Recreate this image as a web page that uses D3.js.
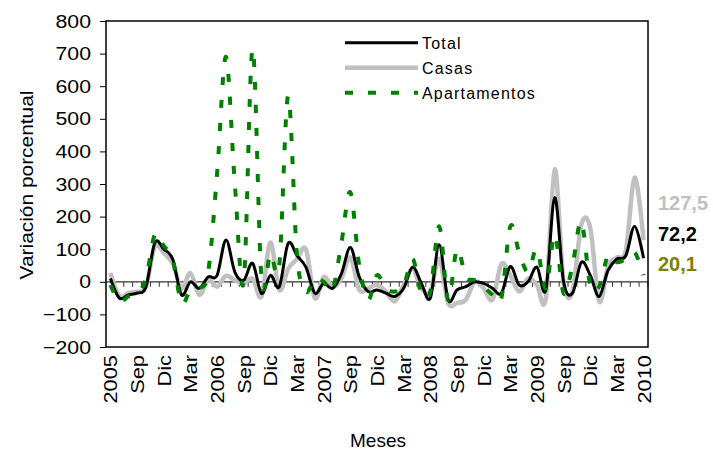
<!DOCTYPE html>
<html>
<head>
<meta charset="utf-8">
<script src="https://cdn.jsdelivr.net/npm/d3@7"></script>
<style>
body { margin: 0; background: #fff; }
text { font-family: Arial, "Liberation Sans", sans-serif; }
</style>
</head>
<body>
<div id="chart"></div>
<script>
var meses = [
    "2005-06","2005-07","2005-08","2005-09","2005-10","2005-11","2005-12",
    "2006-01","2006-02","2006-03","2006-04","2006-05","2006-06","2006-07","2006-08","2006-09","2006-10","2006-11","2006-12",
    "2007-01","2007-02","2007-03","2007-04","2007-05","2007-06","2007-07","2007-08","2007-09","2007-10","2007-11","2007-12",
    "2008-01","2008-02","2008-03","2008-04","2008-05","2008-06","2008-07","2008-08","2008-09","2008-10","2008-11","2008-12",
    "2009-01","2009-02","2009-03","2009-04","2009-05","2009-06","2009-07","2009-08","2009-09","2009-10","2009-11","2009-12",
    "2010-01","2010-02","2010-03","2010-04","2010-05","2010-06"
];
var etiquetas = ["2005","Sep","Dic","Mar","2006","Sep","Dic","Mar","2007","Sep","Dic","Mar",
    "2008","Sep","Dic","Mar","2009","Sep","Dic","Mar","2010"];

var total = [10, -50, -40, -35, -15, 120, 100, 70, -40, 0,
    -20, 15, 20, 128, 30, 5, 57, -36, 20, -15,
    118, 80, 45, -35, -5, -20, 25, 105, 15, -30,
    -25, -35, -45, -20, 45, -5, -50, 114, -55, -25,
    -15, 0, -5, -20, -35, 47, -10, 0, 45, -25,
    258, 0, -35, 60, 20, -45, 35, 70, 80, 170, 72.2];
var casas = [27, -45, -35, -30, -15, 109, 88, 57, -20, 27,
    -40, 6, -15, 18, 5, -5, 10, -45, 120, -25,
    40, 70, 100, -50, 15, -15, 10, 75, -25, -20,
    -10, -30, -60, -10, 40, -20, -30, 70, -65, -65,
    -55, 0, -20, -55, 55, 20, -30, 10, -10, -50,
    345, 0, -30, 175, 165, -60, 47, 75, 95, 320, 127.5];
var apartamentos = [-10, -60, -45, -35, 10, 145, 110, 70, -65, -25,
    -20, 30, 330, 690, 300, 0, 715, 10, 85, 50,
    570, 80, -30, 10, 0, -25, 120, 275, 50, -55,
    20, -20, -30, -15, 70, -35, -30, 170, -55, 100,
    15, 5, -15, -40, -50, 170, 90, 30, 100, -20,
    145, -35, 50, 185, -10, -15, 80, 60, 70, 90, 20.1];

var finales = ["127,5", "72,2", "20,1"];
var series = [
    { nombre: "Total", valores: total, color: "#000000", ancho: 3, dash: null },
    { nombre: "Casas", valores: casas, color: "#c0c0c0", ancho: 4.5, dash: null },
    { nombre: "Apartamentos", valores: apartamentos, color: "#008000", ancho: 4, dash: "8,15" }
];

var width = 713, height = 450;
var padding = { top: 21, right: 65, bottom: 103, left: 106 };
var stretch = 1.12; // the original text looks a bit wide
var svg = d3.select("#chart").append("svg")
    .attr("width", width)
    .attr("height", height);

var xScale = d3.scalePoint()
    .domain(meses)
    .range([padding.left, width - padding.right])
    .padding(0.5);
var yScale = d3.scaleLinear()
    .domain([-200, 800])
    .range([height - padding.bottom, padding.top]);

// y axis
var yAxis = d3.axisLeft(yScale)
    .tickValues(d3.range(-200, 801, 100))
    .tickSize(6)
    .tickPadding(9);
var gy = svg.append("g")
    .attr("transform", "translate(" + padding.left + ",0)")
    .call(yAxis);
gy.select(".domain").remove();
gy.selectAll("line").attr("stroke", "#000");
gy.selectAll("text")
    .attr("x", -15 / stretch)
    .attr("transform", "scale(" + stretch + ",1)")
    .style("font-size", "19px")
    .attr("fill", "#000");

// zero line with monthly ticks
var step = xScale.step();
svg.append("line")
    .attr("x1", padding.left).attr("x2", width - padding.right)
    .attr("y1", yScale(0)).attr("y2", yScale(0))
    .attr("stroke", "#333").attr("stroke-width", 1.3);
svg.append("g")
    .selectAll("line")
    .data(meses)
    .enter()
    .append("line")
    .attr("x1", function(d) { return xScale(d) + step / 2; })
    .attr("x2", function(d) { return xScale(d) + step / 2; })
    .attr("y1", yScale(0))
    .attr("y2", yScale(0) + 5)
    .attr("stroke", "#333");

// x labels every 3 months
svg.append("g")
    .selectAll("text")
    .data(etiquetas)
    .enter()
    .append("text")
    .attr("transform", function(d, i) {
        return "translate(" + (xScale(meses[i * 3]) + 7) + "," + (height - padding.bottom + 8) + ") rotate(-90) scale(1.15,1)";
    })
    .attr("text-anchor", "end")
    .style("font-size", "19px")
    .text(function(d) { return d; });

// lines
var linePath = d3.line()
    .x(function(d, i) { return xScale(meses[i]); })
    .y(function(d) { return yScale(d); })
    .curve(d3.curveCardinal.tension(0));

[series[1], series[0], series[2]].forEach(function(s) {
    svg.append("path")
        .attr("d", linePath(s.valores))
        .attr("fill", "none")
        .attr("stroke", s.color)
        .attr("stroke-width", s.ancho)
        .attr("stroke-linejoin", "round")
        .attr("stroke-dasharray", s.dash);
});

// frame
svg.append("rect")
    .attr("x", padding.left)
    .attr("y", padding.top)
    .attr("width", width - padding.left - padding.right)
    .attr("height", height - padding.top - padding.bottom)
    .attr("fill", "none")
    .attr("stroke", "#000")
    .attr("stroke-width", 1.5);

// legend
var legend = svg.append("g")
    .selectAll("g")
    .data(series)
    .enter()
    .append("g")
    .attr("transform", function(d, i) { return "translate(345," + (42.7 + i * 25) + ")"; });
legend.append("line")
    .attr("x1", 0).attr("x2", 73)
    .attr("stroke", function(d) { return d.color; })
    .attr("stroke-width", function(d) { return d.ancho; })
    .attr("stroke-dasharray", function(d) { return d.dash; });
legend.append("text")
    .attr("x", 77)
    .attr("y", 6)
    .style("font-size", "16px")
    .style("letter-spacing", "1.2px")
    .text(function(d) { return d.nombre; });

// end values
var coloresFinales = ["#c0c0c0", "#000000", "#808000"];
svg.append("g")
    .selectAll("text")
    .data(finales)
    .enter()
    .append("text")
    .attr("x", 658)
    .attr("y", function(d, i) { return [210, 241, 271][i]; })
    .attr("fill", function(d, i) { return coloresFinales[i]; })
    .style("font-size", "20px")
    .style("font-weight", "bold")
    .text(function(d) { return d; });

// axis titles
svg.append("text")
    .attr("x", 378)
    .attr("y", 447)
    .attr("text-anchor", "middle")
    .style("font-size", "19px")
    .text("Meses");
svg.append("text")
    .attr("transform", "translate(33,185) rotate(-90) scale(1.1,1)")
    .attr("text-anchor", "middle")
    .style("font-size", "19px")
    .text("Variación porcentual");
</script>
</body>
</html>
